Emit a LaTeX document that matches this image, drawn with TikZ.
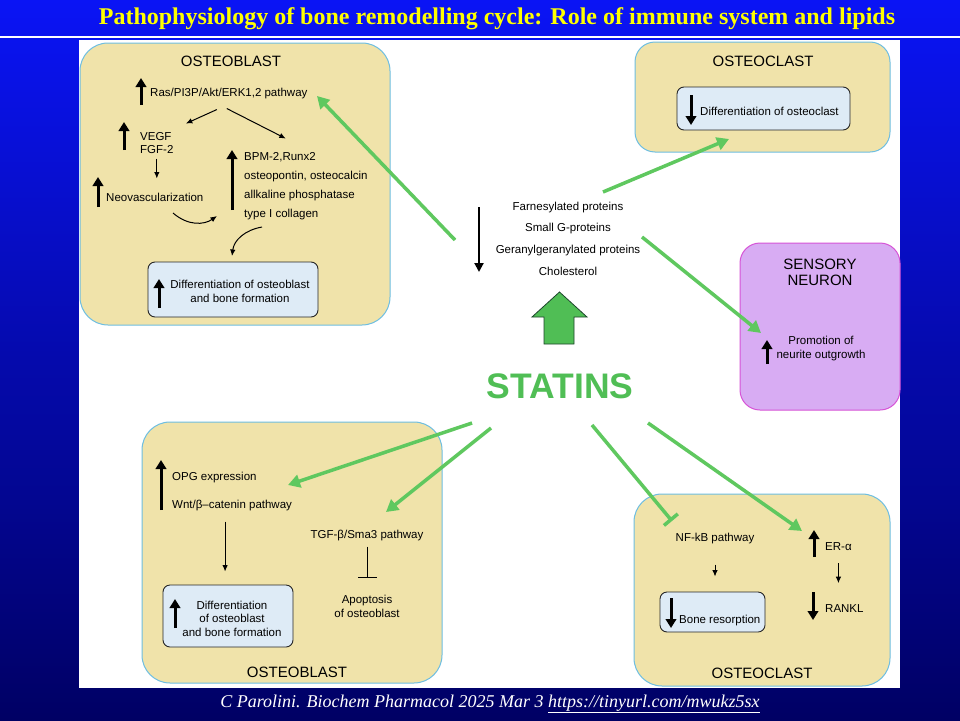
\documentclass[tikz,border=0pt]{standalone}
\usepackage{fontspec}
\setmainfont{Liberation Serif}
\setsansfont{Liberation Sans}
\usetikzlibrary{arrows.meta,positioning,calc}
\definecolor{cellfill}{RGB}{240,227,170}
\definecolor{cellline}{RGB}{110,190,225}
\definecolor{innerfill}{RGB}{222,235,246}
\definecolor{neurofill}{RGB}{216,172,243}
\definecolor{neuroline}{RGB}{214,84,214}
\definecolor{statgreen}{RGB}{80,190,85}
\definecolor{linkgreen}{RGB}{95,200,95}
\definecolor{darkgreen}{RGB}{30,70,45}
\definecolor{titleyellow}{RGB}{255,255,0}
\definecolor{slidetop}{RGB}{10,20,245}
\definecolor{slidebottom}{RGB}{0,0,100}

\begin{document}
\begin{tikzpicture}[x=1pt, y=-1pt,
    font=\sffamily\fontsize{11.5}{13}\selectfont,
    cell/.style={draw=cellline, line width=1pt, fill=cellfill, rounded corners=28pt},
    nerve/.style={draw=neuroline, line width=1pt, fill=neurofill, rounded corners=20pt},
    inbox/.style={draw=black!85, line width=0.9pt, fill=innerfill, rounded corners=7pt},
    head/.style={inner sep=0pt, align=center, font=\sffamily\fontsize{15}{16}\selectfont},
    lbl/.style={inner sep=0pt, anchor=west, align=left},
    ctr/.style={inner sep=0pt, align=center},
    ind/.style={line width=3pt, -{Triangle[width=10.5pt,length=9pt]}},
    flow/.style={line width=1pt, -{Latex[length=6.5pt,width=5.5pt]}},
    link/.style={draw=linkgreen, line width=3.5pt, -{Triangle[width=13pt,length=12pt]}},
    block/.style={draw=linkgreen, line width=3.5pt, -{Bar[width=18pt]}}
  ]
    \useasboundingbox (0,0) rectangle (960,720);
    \fill[top color=slidetop, bottom color=slidebottom] (0,0) rectangle (960,720);
    \draw[white, line width=1.2pt] (0,37) -- (960,37);
    \fill[white] (79,40) rectangle (900,688);

    \node[text=titleyellow, inner sep=0pt, font=\rmfamily\bfseries\fontsize{24}{26}\selectfont] (title) at (497,19)
      {Pathophysiology of bone remodelling cycle: Role of immune system and lipids};
    \node[text=white, inner sep=0pt, font=\rmfamily\itshape\fontsize{18}{20}\selectfont] (cite) at (490,704)
      {C Parolini. Biochem Pharmacol 2025 Mar 3 \underline{https://tinyurl.com/mwukz5sx}};

    \node[cell, minimum width=310, minimum height=282] (obtop) at (235,184) {};
    \node[head] (obtoptitle) at (231,61) {OSTEOBLAST};
    \node[lbl] (ras) at (150,94) {Ras/PI3P/Akt/ERK1,2 pathway};
    \draw[ind] (141,105) -- (141,78);
    \node[lbl, font=\sffamily\fontsize{11.5}{12.5}\selectfont] (vegf) at (140,143) {VEGF\\FGF-2};
    \draw[ind] (124,150) -- (124,122);
    \draw[flow] (ras.south) ++(-12,10) -- ++(-31,14);
    \draw[flow] (ras.south) ++(-2,9) -- ++(59,30);
    \draw[flow] (vegf.south) ++(0,5) -- ++(0,20);
    \node[lbl] (neo) at (106,197) {Neovascularization};
    \draw[ind] (98,207) -- (98,177);
    \node[lbl] (bmp) at (244,157) {BPM-2,Runx2};
    \node[lbl] (opn) at (244,177) {osteopontin, osteocalcin};
    \node[lbl] (alp) at (244,196) {allkaline phosphatase};
    \node[lbl] (col) at (244,215) {type I collagen};
    \draw[ind] (232,210) -- (232,150);
    \coordinate (neoout) at (173,213);
    \coordinate (bmpin) at (217,216);
    \draw[flow] (neoout) .. controls (188,226) and (204,225) .. (bmpin);
    \node[inbox, minimum width=170, minimum height=55] (obdiff) at (233,289.5) {};
    \node[ctr, font=\sffamily\fontsize{11.5}{14}\selectfont] (obdifftxt) at (240,291) {Differentiation of osteoblast\\and bone formation};
    \draw[ind] (159,308) -- (159,279);
    \coordinate (colout) at (262,227);
    \coordinate (obdiffin) at (232,256);
    \draw[flow] (colout) .. controls (245,230) and (234,240) .. (obdiffin);

    \node[cell, rounded corners=20pt, minimum width=255, minimum height=110] (octop) at (762.5,97) {};
    \node[head] (octoptitle) at (763,61) {OSTEOCLAST};
    \node[inbox, minimum width=173, minimum height=43] (ocdiff) at (763.5,108.5) {};
    \node[lbl] (ocdifftxt) at (700,111) {Differentiation of osteoclast};
    \draw[ind] (691,95) -- (691,125);

    \node[ctr] (farn) at (568,208) {Farnesylated proteins};
    \node[ctr] (smallg) at (568,229) {Small G-proteins};
    \node[ctr] (gger) at (568,251) {Geranylgeranylated proteins};
    \node[ctr] (chol) at (568,271) {Cholesterol};
    \draw[line width=2pt, -{Triangle[width=9pt,length=9pt]}] (479,207) -- (479,272);
    \draw[fill=statgreen, draw=darkgreen, line width=0.8pt]
      (532,317) -- (559.5,292) -- (587,317) -- (574,317) -- (574,344) -- (544,344) -- (544,317) -- cycle;
    \node[ctr, text=statgreen, font=\sffamily\bfseries\fontsize{35.5}{37}\selectfont] (statins) at (560,386) {STATINS};

    \node[nerve, minimum width=160, minimum height=167] (neuron) at (820,326.5) {};
    \node[head] (neurontitle) at (820,272) {SENSORY\\NEURON};
    \node[ctr, font=\sffamily\fontsize{11.5}{14}\selectfont] (neurite) at (821,349) {Promotion of\\neurite outgrowth};
    \draw[ind] (767,364) -- (767,340);

    \node[cell, minimum width=300, minimum height=261] (obbot) at (292,552.5) {};
    \node[head] (obbottitle) at (297,672) {OSTEOBLAST};
    \node[lbl] (opg) at (172,478) {OPG expression};
    \node[lbl] (wnt) at (172,506) {Wnt/β–catenin pathway};
    \draw[ind] (161,510) -- (161,460);
    \draw[flow] (wnt.south) ++(-7,10) -- ++(0,50);
    \node[inbox, minimum width=130, minimum height=62] (obdiff2) at (228,616) {};
    \node[ctr, font=\sffamily\fontsize{11.5}{13.5}\selectfont] (obdiff2txt) at (232,618.5) {Differentiation\\of osteoblast\\and bone formation};
    \draw[ind] (175,628) -- (175,599);
    \node[ctr] (tgf) at (367,536) {TGF-β/Sma3 pathway};
    \node[ctr, font=\sffamily\fontsize{11.5}{14}\selectfont] (apop) at (367,606) {Apoptosis\\of osteoblast};
    \draw[line width=1pt, -{Bar[width=19pt]}] (tgf.south) ++(0,5) -- ++(0,31);

    \node[cell, minimum width=256, minimum height=192] (ocbot) at (762,590) {};
    \node[head] (ocbottitle) at (762,673) {OSTEOCLAST};
    \node[ctr] (nfkb) at (715,539) {NF-kB pathway};
    \draw[flow] (nfkb.south) ++(0,20) -- ++(0,12);
    \node[inbox, minimum width=105, minimum height=40] (bres) at (712.5,612) {};
    \node[lbl] (brestxt) at (679,621) {Bone resorption};
    \draw[ind] (671,598) -- (671,628);
    \node[lbl] (era) at (825,547) {ER-α};
    \draw[ind] (814,557) -- (814,530);
    \draw[flow] (era.south) ++(0,12) -- ++(0,20);
    \node[lbl] (rankl) at (825,609) {RANKL};
    \draw[ind] (813,592) -- (813,620);

    \coordinate (g1a) at (455,240);   \coordinate (g1b) at (317,96);
    \coordinate (g2a) at (603,192);   \coordinate (g2b) at (729,139);
    \coordinate (g3a) at (642,237);   \coordinate (g3b) at (761,333);
    \coordinate (g4a) at (472,423);   \coordinate (g4b) at (288,485);
    \coordinate (g5a) at (491,428);   \coordinate (g5b) at (386,512);
    \coordinate (g6a) at (592,425);   \coordinate (g6b) at (672,521);
    \coordinate (g7a) at (648,423);   \coordinate (g7b) at (802,531);
    \draw[link] (g1a) -- (g1b);
    \draw[link] (g2a) -- (g2b);
    \draw[link] (g3a) -- (g3b);
    \draw[link] (g4a) -- (g4b);
    \draw[link] (g5a) -- (g5b);
    \draw[block] (g6a) -- (g6b);
    \draw[link] (g7a) -- (g7b);
  \end{tikzpicture}
\end{document}
